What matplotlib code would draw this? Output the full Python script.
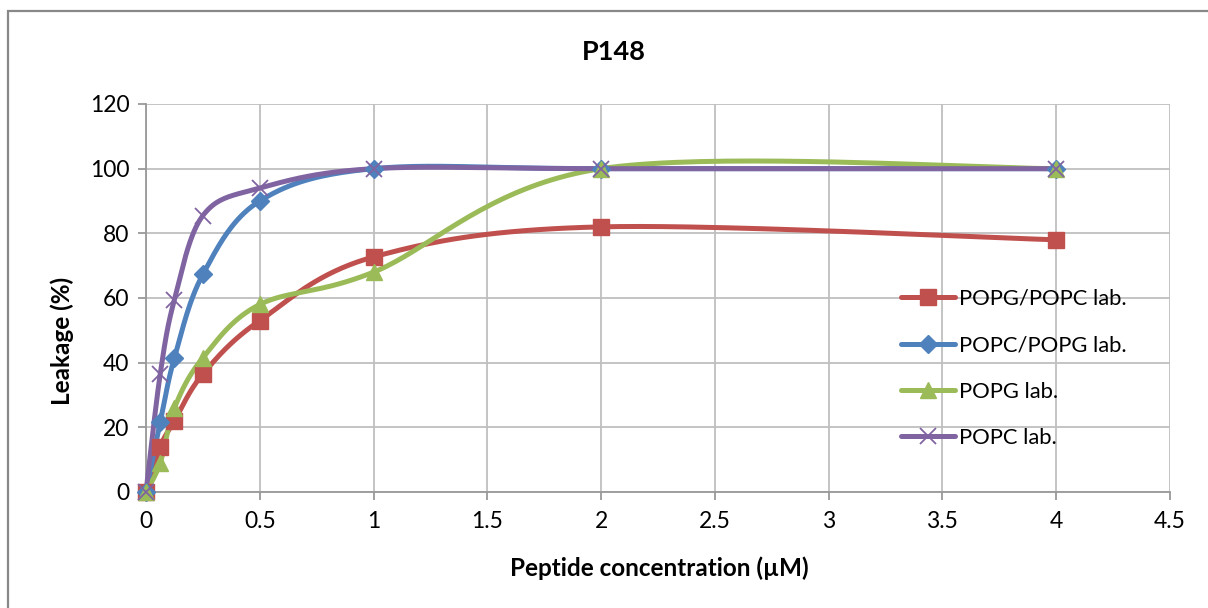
import numpy as np
import matplotlib
matplotlib.use("Agg")
import matplotlib.pyplot as plt
from matplotlib.patches import Rectangle

plt.rcParams['font.family'] = ['Lato', 'DejaVu Sans']

conc = [0, 0.0625, 0.125, 0.25, 0.5, 1, 2, 4]
popg_popc = [0, 14, 22, 36.5, 53, 72.7, 82, 78]
popc_popg = [0, 21.5, 41.5, 67.3, 90, 100, 100, 100]
popg = [0, 9, 26, 41.5, 58, 68, 100, 100]
popc = [0, 36.5, 59.5, 85.5, 94, 100, 100, 100]

series_names = ["POPG/POPC lab.", "POPC/POPG lab.", "POPG lab.", "POPC lab."]
series_vals = [popg_popc, popc_popg, popg, popc]
colors = ["#C0504D", "#4F81BD", "#9BBB59", "#8064A2"]
markers = ["s", "D", "^", "x"]
msizes = [11, 9, 12, 11]

x_ticks = [0, 0.5, 1, 1.5, 2, 2.5, 3, 3.5, 4, 4.5]
y_ticks = [0, 20, 40, 60, 80, 100, 120]


def smooth(xs, ys, n=40):
    P = np.column_stack([xs, ys]).astype(float)
    out = [P[0]]
    for i in range(len(P) - 1):
        p0 = P[i - 1] if i > 0 else P[i]
        p1 = P[i]
        p2 = P[i + 1]
        p3 = P[i + 2] if i + 2 < len(P) else P[i + 1]
        c1 = p1 + (p2 - p0) / 6.0
        c2 = p2 - (p3 - p1) / 6.0
        t = np.linspace(0, 1, n)[1:, None]
        seg = ((1 - t) ** 3) * p1 + 3 * ((1 - t) ** 2) * t * c1 + 3 * (1 - t) * t ** 2 * c2 + t ** 3 * p2
        out.extend(seg)
    out = np.array(out)
    return out[:, 0], out[:, 1]


fig = plt.figure(figsize=(12.08, 6.08), dpi=100)
W, H = 1208, 608
ax = fig.add_axes([146 / W, 1 - 492 / H, (1170 - 146) / W, (492 - 104) / H])

for name, vals, c, m, ms in zip(series_names, series_vals, colors, markers, msizes):
    sx, sy = smooth(conc, vals)
    ax.plot(sx, sy, color=c, lw=3.6, solid_capstyle='round', zorder=3, clip_on=False)
    if m == 'x':
        ax.plot(conc, vals, ls='none', marker=m, ms=ms, mew=1.3, color=c, zorder=4, clip_on=False)
        ax.plot([], [], color=c, lw=3.6, marker=m, ms=ms, mew=1.3, label=name, solid_capstyle='round')
    else:
        ax.plot(conc, vals, ls='none', marker=m, ms=ms, color=c, mec=c, zorder=4, clip_on=False)
        ax.plot([], [], color=c, lw=3.6, marker=m, ms=ms, mec=c, label=name, solid_capstyle='round')

ax.set_xlim(0, 4.5)
ax.set_ylim(0, 120)
ax.set_xticks(x_ticks)
ax.set_xticklabels([("%g" % v) for v in x_ticks])
ax.set_yticks(y_ticks)
ax.grid(True, color="#BFBFBF", lw=1.3, zorder=0)
ax.set_axisbelow(True)
for s in ['top', 'right']:
    ax.spines[s].set_visible(False)
for s in ['left', 'bottom']:
    ax.spines[s].set_color("#999999")
    ax.spines[s].set_linewidth(1.3)
ax.tick_params(axis='both', colors="#999999", labelcolor='black', labelsize=16.5, length=6, width=1.3, direction='out')
ax.tick_params(axis='x', pad=8)
ax.tick_params(axis='y', pad=6)

fig.text(614 / W, 1 - 52 / H, "P148", fontsize=19.5, fontweight='bold', ha='center', va='center')
ax.set_xlabel("Peptide concentration (µM)", fontsize=17.5, fontweight='bold')
ax.xaxis.set_label_coords((659 - 146) / (1170 - 146), -(568 - 492) / (492 - 104))
ax.xaxis.label.set_va('center')
ax.set_ylabel("Leakage (%)", fontsize=17.5, fontweight='bold')
ax.yaxis.set_label_coords(-(146 - 62) / (1170 - 146), (492 - 341) / (492 - 104))
ax.yaxis.label.set_va('center')

h, l = ax.get_legend_handles_labels()
leg = ax.legend(h, l, loc='upper left', bbox_to_anchor=(890 / W, 1 - 278 / H), bbox_transform=fig.transFigure,
                frameon=False, fontsize=15.8, handlelength=2.45, handletextpad=0.2, labelspacing=1.2, borderpad=0)

fig.patches.append(Rectangle((8 / W, -0.05), 1.2, 1 - 11 / H + 0.05, transform=fig.transFigure,
                             fill=False, edgecolor="#888888", lw=1.6))

fig.savefig("out.png", dpi=100)
